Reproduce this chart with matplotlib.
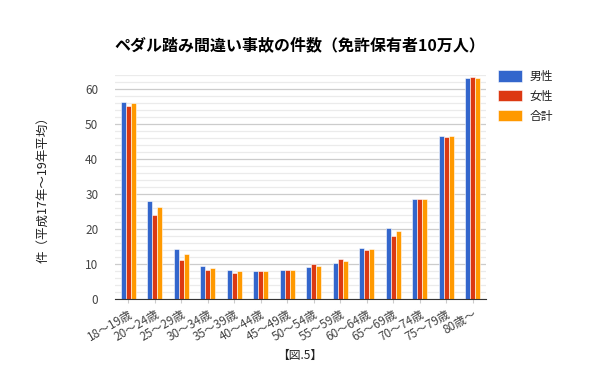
import matplotlib
matplotlib.use("Agg")
import matplotlib.pyplot as plt
import numpy as np

plt.rcParams['font.family'] = ['Noto Sans CJK JP', 'DejaVu Sans']

categories = ["18～19歳", "20～24歳", "25～29歳", "30～34歳", "35～39歳", "40～44歳", "45～49歳",
              "50～54歳", "55～59歳", "60～64歳", "65～69歳", "70～74歳", "75～79歳", "80歳～"]
male = [56.3, 28.1, 14.4, 9.5, 8.4, 8.1, 8.4, 9.2, 10.4, 14.7, 20.4, 28.7, 46.7, 63.2]
female = [55.0, 23.9, 11.2, 8.4, 7.5, 8.1, 8.4, 9.9, 11.5, 14.1, 18.1, 28.7, 46.4, 63.5]
total = [55.9, 26.2, 13.0, 9.0, 7.9, 8.1, 8.4, 9.5, 11.0, 14.4, 19.5, 28.7, 46.7, 63.2]
series_names = ["男性", "女性", "合計"]
colors = ["#3366cc", "#dc3912", "#ff9900"]

fig = plt.figure(figsize=(6, 3.71), dpi=100)
ax = fig.add_axes([0.1917, 0.194, 0.618, 0.604])

x = np.arange(len(categories))
bw = 0.19
for i, (vals, name, c) in enumerate(zip([male, female, total], series_names, colors)):
    ax.bar(x + (i - 1) * bw, vals, width=bw, color=c, edgecolor="white", linewidth=0.4,
           label=name, zorder=3)

ax.set_xlim(-0.5, len(categories) - 0.5)
ax.set_ylim(0, 64)
ax.set_yticks(np.arange(0, 61, 10))
ax.set_yticks(np.arange(0, 65, 2), minor=True)
ax.grid(axis="y", which="major", color="#cccccc", linewidth=0.9, zorder=0)
ax.grid(axis="y", which="minor", color="#ebebeb", linewidth=0.9, zorder=0)
ax.tick_params(axis="y", which="both", length=0, labelsize=8.5, colors="#444444", pad=12)
ax.set_xticks(x)
ax.set_xticklabels(categories, rotation=30, ha="right", rotation_mode="anchor", fontsize=8.5, color="#444444")
ax.tick_params(axis="x", length=3, color="#cccccc", pad=3)
for s in ["top", "right", "left"]:
    ax.spines[s].set_visible(False)
ax.spines["bottom"].set_color("#333333")
ax.spines["bottom"].set_zorder(4)

ax.set_ylabel("件（平成17年～19年平均）", fontsize=9, color="#222222", style="italic", labelpad=26)
fig.text(0.5, 0.878, "ペダル踏み間違い事故の件数（免許保有者10万人）", ha="center", va="center",
         fontsize=11.5, fontweight="bold", color="#000000")
fig.text(0.5, 0.043, "【図.5】", ha="center", va="center", fontsize=8.5, style="italic", color="#222222")

leg = fig.legend(loc="upper left", bbox_to_anchor=(0.813, 0.84), frameon=False, fontsize=8.5,
                 handlelength=2.0, handleheight=1.1, labelspacing=0.58, handletextpad=0.6,
                 labelcolor="#222222")

fig.savefig("out.png", dpi=100)
